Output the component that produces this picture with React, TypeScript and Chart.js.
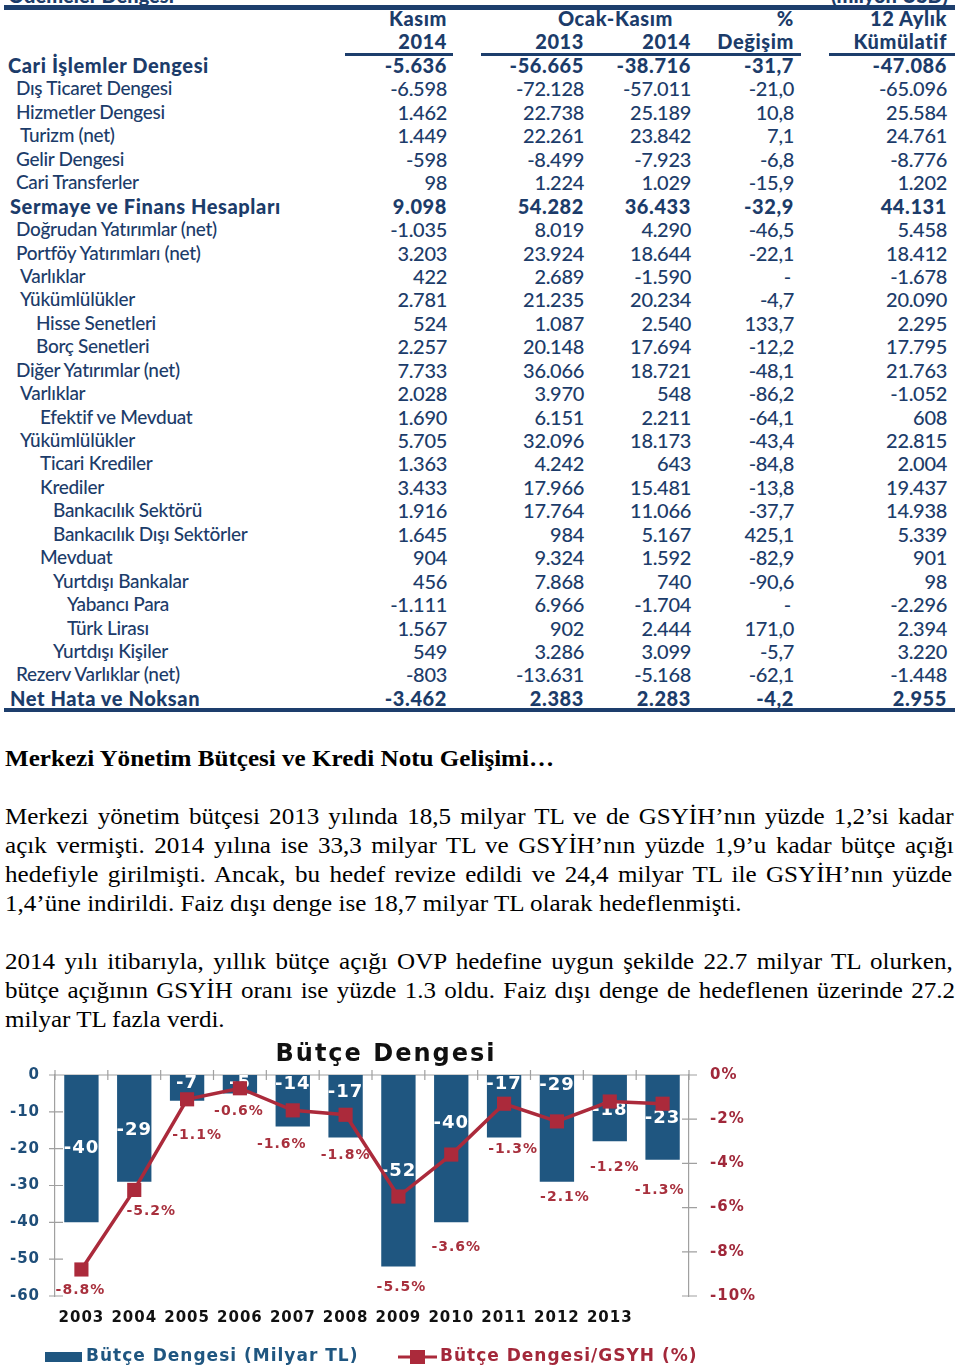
import React, { useEffect, useRef } from 'react';
import { Chart, registerables } from 'chart.js';
Chart.register(...registerables);

// ---------- Table data ----------
const rowLabels = [
  'Cari İşlemler Dengesi', 'Dış Ticaret Dengesi', 'Hizmetler Dengesi', 'Turizm (net)', 'Gelir Dengesi',
  'Cari Transferler', 'Sermaye ve Finans Hesapları', 'Doğrudan Yatırımlar (net)', 'Portföy Yatırımları (net)',
  'Varlıklar', 'Yükümlülükler', 'Hisse Senetleri', 'Borç Senetleri', 'Diğer Yatırımlar (net)', 'Varlıklar',
  'Efektif ve Mevduat', 'Yükümlülükler', 'Ticari Krediler', 'Krediler', 'Bankacılık Sektörü',
  'Bankacılık Dışı Sektörler', 'Mevduat', 'Yurtdışı Bankalar', 'Yabancı Para', 'Türk Lirası',
  'Yurtdışı Kişiler', 'Rezerv Varlıklar (net)', 'Net Hata ve Noksan',
];
const rowLevels = [0, 1, 1, 2, 1, 1, 0, 1, 1, 2, 2, 4, 4, 1, 2, 5, 2, 5, 5, 6, 6, 5, 6, 7, 7, 6, 1, 0];
const rowBold = [true, false, false, false, false, false, true, false, false, false, false, false, false, false,
  false, false, false, false, false, false, false, false, false, false, false, false, false, true];
const kasim2014 = ['-5.636', '-6.598', '1.462', '1.449', '-598', '98', '9.098', '-1.035', '3.203', '422', '2.781',
  '524', '2.257', '7.733', '2.028', '1.690', '5.705', '1.363', '3.433', '1.916', '1.645', '904', '456', '-1.111',
  '1.567', '549', '-803', '-3.462'];
const ocakKasim2013 = ['-56.665', '-72.128', '22.738', '22.261', '-8.499', '1.224', '54.282', '8.019', '23.924',
  '2.689', '21.235', '1.087', '20.148', '36.066', '3.970', '6.151', '32.096', '4.242', '17.966', '17.764', '984',
  '9.324', '7.868', '6.966', '902', '3.286', '-13.631', '2.383'];
const ocakKasim2014 = ['-38.716', '-57.011', '25.189', '23.842', '-7.923', '1.029', '36.433', '4.290', '18.644',
  '-1.590', '20.234', '2.540', '17.694', '18.721', '548', '2.211', '18.173', '643', '15.481', '11.066', '5.167',
  '1.592', '740', '-1.704', '2.444', '3.099', '-5.168', '2.283'];
const degisim = ['-31,7', '-21,0', '10,8', '7,1', '-6,8', '-15,9', '-32,9', '-46,5', '-22,1', '-', '-4,7', '133,7',
  '-12,2', '-48,1', '-86,2', '-64,1', '-43,4', '-84,8', '-13,8', '-37,7', '425,1', '-82,9', '-90,6', '-', '171,0',
  '-5,7', '-62,1', '-4,2'];
const kumulatif = ['-47.086', '-65.096', '25.584', '24.761', '-8.776', '1.202', '44.131', '5.458', '18.412',
  '-1.678', '20.090', '2.295', '17.795', '21.763', '-1.052', '608', '22.815', '2.004', '19.437', '14.938', '5.339',
  '901', '98', '-2.296', '2.394', '3.220', '-1.448', '2.955'];

// ---------- Text ----------
const heading = 'Merkezi Yönetim Bütçesi ve Kredi Notu Gelişimi…';
const paragraph1 = [
  'Merkezi yönetim bütçesi 2013 yılında 18,5 milyar TL ve de GSYİH’nın yüzde 1,2’si kadar',
  'açık vermişti. 2014 yılına ise 33,3 milyar TL ve GSYİH’nın yüzde 1,9’u kadar bütçe açığı',
  'hedefiyle girilmişti. Ancak, bu hedef revize edildi ve 24,4 milyar TL ile GSYİH’nın yüzde',
  '1,4’üne indirildi. Faiz dışı denge ise 18,7 milyar TL olarak hedeflenmişti.',
];
const paragraph2 = [
  '2014 yılı itibarıyla, yıllık bütçe açığı OVP hedefine uygun şekilde 22.7 milyar TL olurken,',
  'bütçe açığının GSYİH oranı ise yüzde 1.3 oldu. Faiz dışı denge de hedeflenen üzerinde 27.2',
  'milyar TL fazla verdi.',
];

// ---------- Chart data ----------
const chartTitle = 'Bütçe Dengesi';
const years = ['2003', '2004', '2005', '2006', '2007', '2008', '2009', '2010', '2011', '2012', '2013', ''];
const budgetBalance = [-40, -29, -7, -5, -14, -17, -52, -40, -17, -29, -18, -23];
const budgetToGdp = [-8.8, -5.2, -1.1, -0.6, -1.6, -1.8, -5.5, -3.6, -1.3, -2.1, -1.2, -1.3];
const barSeriesName = 'Bütçe Dengesi (Milyar TL)';
const lineSeriesName = 'Bütçe Dengesi/GSYH (%)';

// label placement tweaks (pixels, relative to the computed mark positions)
const barLabelShift = [0, 2, -5, -1, -16, -14, 1, -25, -22, -43, 2, 1];
const lineLabelOffset: [number, number][] = [
  [-1, 21], [17, 21], [10, 36], [-1, 23], [-11, 34], [0, 41],
  [3, 91], [5, 93], [9, 46], [8, 76], [5, 66], [-3, 87],
];

const NAVY = '#1c3c6a';
const BAR = '#1f5680';
const RED = '#ab2a3b';
const FONT = '"DejaVu Sans", Verdana, sans-serif';

const measureCtx = typeof document !== 'undefined' ? document.createElement('canvas').getContext('2d') : null;
function measure(text: string, font: string) {
  if (!measureCtx) return text.length * 10;
  measureCtx.font = font;
  return measureCtx.measureText(text).width;
}

function TextBlock(props: { lines: string[]; top: number; lastWidth: number; size: number; bold?: boolean }) {
  const { lines, top, lastWidth, size, bold } = props;
  const weight = bold ? 'bold' : 'normal';
  const font = `${weight} ${size}px "Liberation Serif"`;
  const k = lastWidth / measure(lines[lines.length - 1], font);
  const full = 950;
  return (
    <>
      {lines.map((ln, i) => {
        const isLast = i === lines.length - 1;
        const w = measure(ln, font);
        const n = (ln.match(/ /g) || []).length;
        const ws = isLast || n === 0 ? 0 : (full / k - w) / n;
        return (
          <div
            key={i}
            style={{
              position: 'absolute', left: 5, top: top + i * 29, height: 29, lineHeight: '29px',
              fontFamily: '"Liberation Serif", "Times New Roman", serif', fontSize: size, fontWeight: weight as any,
              whiteSpace: 'pre', wordSpacing: ws + 'px', transform: `scaleX(${k})`, transformOrigin: 'left top',
              color: '#000',
            }}
          >
            {ln}
          </div>
        );
      })}
    </>
  );
}

function Table() {
  const rowTop = (i: number) => 65 + i * 23.44 - 12;
  const indentPx = [8, 16, 20, 24, 36, 40, 53, 67];
  const cols = [
    { data: kasim2014, right: 447 },
    { data: ocakKasim2013, right: 584 },
    { data: ocakKasim2014, right: 691 },
    { data: degisim, right: 794 },
    { data: kumulatif, right: 947 },
  ];
  const boldStyle = { fontSize: 20, fontWeight: 900, letterSpacing: '0.6px' };
  const numStyle = { fontSize: 20, fontWeight: 500, letterSpacing: '-0.3px' };
  const cell = (txt: string, right: number, top: number, bold: boolean, key: string) => (
    <div key={key} style={{
      position: 'absolute', right: 960 - right, top, height: 24, lineHeight: '24px', whiteSpace: 'nowrap',
      fontFamily: 'Lato, sans-serif', color: NAVY, ...(bold ? boldStyle : numStyle),
    }}>{txt}</div>
  );
  const hdr = [
    ['Kasım', 447, 18], ['2014', 447, 41], ['Ocak-Kasım', 673, 18], ['2013', 584, 41], ['2014', 691, 41],
    ['%', 794, 18], ['Değişim', 794, 41], ['12 Aylık', 947, 18], ['Kümülatif', 947, 41],
  ] as [string, number, number][];
  const cropped = { position: 'absolute' as const, top: -15, height: 20, lineHeight: '20px', fontFamily: 'Lato, sans-serif', fontWeight: 900, fontSize: 20, color: NAVY };
  return (
    <>
      <div style={{ position: 'absolute', left: 0, top: 0, width: 960, height: 5, overflow: 'hidden' }}>
        <div style={{ ...cropped, left: 8 }}>Ödemeler Dengesi</div>
        <div style={{ ...cropped, right: 12 }}>(milyon USD)</div>
      </div>
      <div style={{ position: 'absolute', left: 4, top: 5, width: 951, height: 5, background: '#1d3e6c' }} />
      {hdr.map(([t, r, y], i) => cell(t, r, y - 12, true, 'h' + i))}
      {[[345, 453], [481, 801], [829, 955]].map(([a, b], i) => (
        <div key={'u' + i} style={{ position: 'absolute', left: a, top: 53, width: b - a, height: 3, background: '#1d3e6c' }} />
      ))}
      {rowLabels.map((lab, i) => (
        <div key={'l' + i} style={{
          position: 'absolute', left: indentPx[rowLevels[i]] + (rowBold[i] && i > 0 ? 2 : 0), top: rowTop(i), height: 24,
          lineHeight: '24px', whiteSpace: 'nowrap', fontFamily: 'Lato, sans-serif', color: NAVY,
          ...(rowBold[i] ? boldStyle : { fontSize: 19, fontWeight: 500, letterSpacing: '-0.3px' }),
        }}>{lab}</div>
      ))}
      {cols.map((c, ci) => c.data.map((v, i) =>
        cell(v, v === '-' ? c.right - 3 : c.right, rowTop(i), rowBold[i], `c${ci}-${i}`)))}
      <div style={{ position: 'absolute', left: 4, top: 708, width: 951, height: 4, background: '#1d3e6c' }} />
    </>
  );
}

function BudgetChart() {
  const ref = useRef<HTMLCanvasElement>(null);
  useEffect(() => {
    if (!ref.current) return;
    const chromePlugin = {
      id: 'chrome',
      beforeDraw(chart: any) {
        const ctx = chart.ctx;
        ctx.save();
        ctx.fillStyle = '#fff';
        ctx.fillRect(0, 0, chart.width, chart.height);
        ctx.restore();
        (ctx as any).letterSpacing = '1px';
      },
      beforeDatasetsDraw(chart: any) {
        const ctx = chart.ctx;
        const { left, right } = chart.chartArea;
        const y = chart.scales.y;
        const y1 = chart.scales.y1;
        const zero = y.getPixelForValue(0);
        ctx.save();
        ctx.strokeStyle = '#a0a0a0';
        ctx.lineWidth = 1.2;
        ctx.beginPath();
        ctx.moveTo(left, zero); ctx.lineTo(right, zero);
        const n = years.length;
        for (let i = 0; i <= n; i++) {
          const x = left + ((right - left) * i) / n;
          ctx.moveTo(x, zero - 5); ctx.lineTo(x, zero + 5);
        }
        y.ticks.forEach((t: any) => {
          const py = y.getPixelForValue(t.value);
          ctx.moveTo(left - 6, py); ctx.lineTo(left + 8, py);
        });
        y1.ticks.forEach((t: any) => {
          const py = y1.getPixelForValue(t.value);
          ctx.moveTo(right - 7, py); ctx.lineTo(right + 8, py);
        });
        ctx.stroke();
        ctx.restore();
      },
      afterDatasetDraw(chart: any, args: any) {
        if (args.meta.type !== 'bar') return;
        const ctx = chart.ctx;
        ctx.save();
        ctx.font = `bold 18px ${FONT}`;
        ctx.fillStyle = '#fff';
        ctx.textAlign = 'center';
        ctx.textBaseline = 'middle';
        args.meta.data.forEach((el: any, i: number) => {
          const p = el.getProps(['x', 'y', 'base'], true);
          ctx.fillText(String(budgetBalance[i]), p.x, (p.y + p.base) / 2 + barLabelShift[i]);
        });
        ctx.restore();
      },
      afterDatasetsDraw(chart: any) {
        const ctx = chart.ctx;
        const meta = chart.getDatasetMeta(0);
        ctx.save();
        ctx.font = `bold 14px ${FONT}`;
        ctx.fillStyle = '#a8303d';
        ctx.textAlign = 'center';
        ctx.textBaseline = 'middle';
        meta.data.forEach((el: any, i: number) => {
          const p = el.getProps(['x', 'y'], true);
          const [dx, dy] = lineLabelOffset[i];
          ctx.fillText(budgetToGdp[i].toFixed(1) + '%', p.x + dx, p.y + dy);
        });
        ctx.restore();
      },
      afterDraw(chart: any) {
        const ctx = chart.ctx;
        ctx.save();
        // title
        ctx.font = `bold 24px ${FONT}`;
        (ctx as any).letterSpacing = '2px';
        ctx.fillStyle = '#111';
        ctx.textAlign = 'center';
        ctx.textBaseline = 'middle';
        ctx.fillText(chartTitle, 386, 22);
        // legend
        (ctx as any).letterSpacing = '1px';
        ctx.font = `bold 17px ${FONT}`;
        ctx.textAlign = 'left';
        const ly = 324;
        ctx.fillStyle = BAR;
        ctx.fillRect(45, ly - 5, 37, 10);
        ctx.fillText(barSeriesName, 86, ly);
        ctx.strokeStyle = RED;
        ctx.lineWidth = 3;
        ctx.beginPath(); ctx.moveTo(398, ly); ctx.lineTo(437, ly); ctx.stroke();
        ctx.fillStyle = RED;
        ctx.fillRect(410, ly - 7, 15, 14);
        ctx.fillStyle = '#a3283a';
        ctx.fillText(lineSeriesName, 440, ly);
        ctx.restore();
      },
    };

    const chart = new Chart(ref.current, {
      type: 'bar',
      data: {
        labels: years,
        datasets: [
          {
            type: 'line',
            label: lineSeriesName,
            data: budgetToGdp,
            yAxisID: 'y1',
            borderColor: RED,
            borderWidth: 3.5,
            pointStyle: 'rect',
            pointRadius: 10,
            pointBackgroundColor: RED,
            pointBorderColor: RED,
            pointBorderWidth: 0,
            order: 0,
          } as any,
          {
            type: 'bar',
            label: barSeriesName,
            data: budgetBalance,
            yAxisID: 'y',
            backgroundColor: BAR,
            categoryPercentage: 1,
            barPercentage: 0.65,
            order: 1,
          },
        ],
      },
      options: {
        responsive: false,
        animation: false,
        devicePixelRatio: 1,
        layout: { padding: { top: 42, bottom: 45, left: 0, right: 0 } },
        plugins: { legend: { display: false }, tooltip: { enabled: false }, title: { display: false } },
        scales: {
          x: {
            position: 'bottom',
            grid: { display: false, drawTicks: false },
            border: { display: false },
            ticks: { color: '#111', font: { family: FONT, size: 15, weight: 'bold' }, padding: 13, maxRotation: 0, autoSkip: false },
            afterFit: (s: any) => { s.height = 30; },
          },
          y: {
            position: 'left',
            min: -60, max: 0,
            grid: { display: false, drawTicks: false },
            border: { display: true, color: '#a0a0a0', width: 1.2 },
            ticks: { stepSize: 10, color: '#1f4e79', font: { family: FONT, size: 15, weight: 'bold' }, padding: 15 },
            afterFit: (s: any) => { s.width = 55; },
          },
          y1: {
            position: 'right',
            min: -10, max: 0,
            grid: { display: false, drawTicks: false },
            border: { display: true, color: '#a0a0a0', width: 1.2 },
            ticks: {
              stepSize: 2, color: '#a0283a', font: { family: FONT, size: 15, weight: 'bold' }, padding: 21,
              callback: (v: any) => v + '%',
            },
            afterFit: (s: any) => { s.width = 81; },
          },
        },
      } as any,
      plugins: [chromePlugin],
    });
    return () => chart.destroy();
  }, []);
  return (
    <canvas ref={ref} width={770} height={338}
      style={{ position: 'absolute', left: 0, top: 1033, width: 770, height: 338 }} />
  );
}

export default function App() {
  return (
    <div style={{ position: 'absolute', left: 0, top: 0, width: 960, height: 1371, background: '#fff', overflow: 'hidden' }}>
      <Table />
      <TextBlock lines={[heading]} top={743.5} lastWidth={550} size={24} bold />
      <TextBlock lines={paragraph1} top={801.5} lastWidth={738} size={24} />
      <TextBlock lines={paragraph2} top={946.5} lastWidth={221} size={24} />
      <BudgetChart />
    </div>
  );
}
